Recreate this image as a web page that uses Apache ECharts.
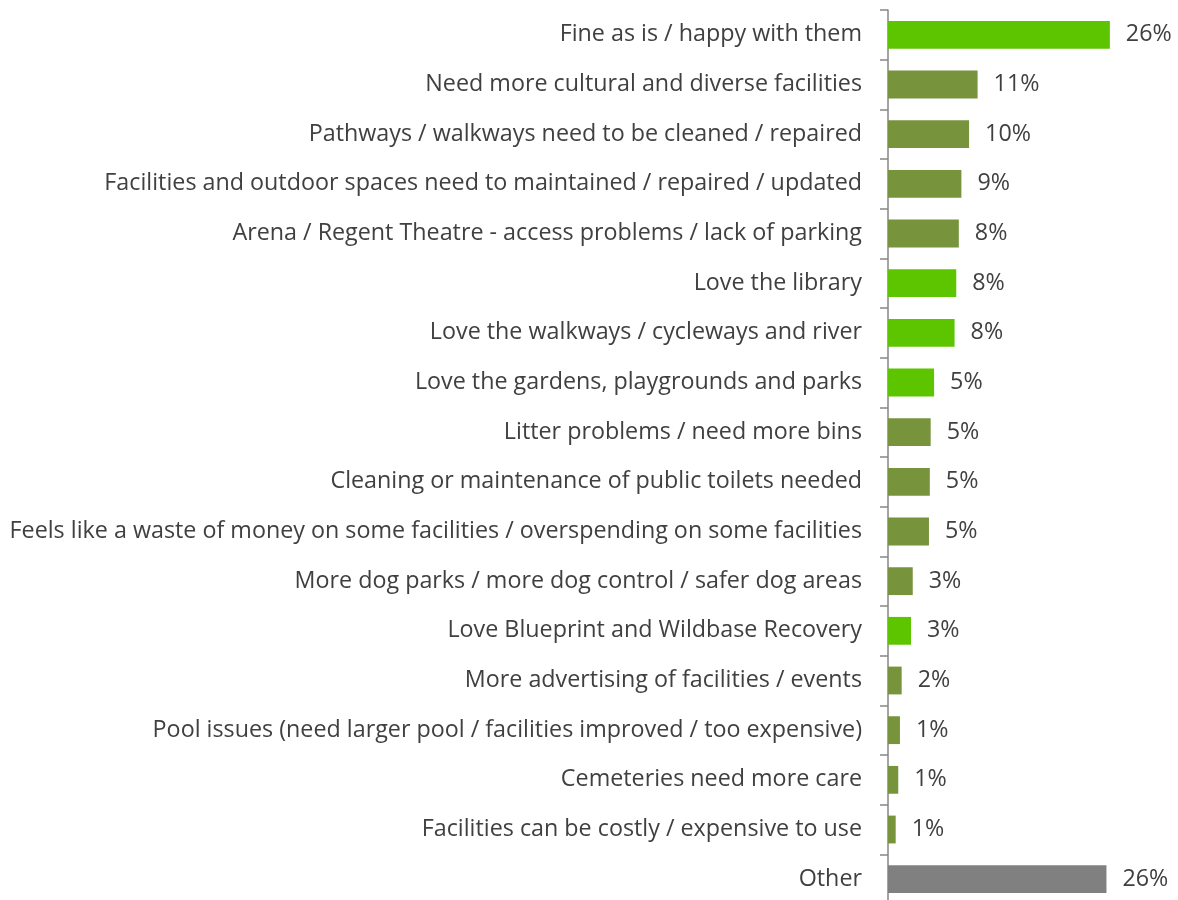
<!DOCTYPE html>
<html>
<head>
<meta charset="utf-8">
<title>Comments on community facilities</title>
<script src="https://cdn.jsdelivr.net/npm/echarts@6/dist/echarts.min.js"></script>
<style>
  html, body { margin: 0; padding: 0; background: #ffffff; overflow: hidden; }
  #chart { width: 1178px; height: 910px; }
</style>
</head>
<body>
<div id="chart"></div>
<script>
// Comment themes, listed top to bottom
const categories = [
  'Fine as is / happy with them',
  'Need more cultural and diverse facilities',
  'Pathways / walkways need to be cleaned / repaired',
  'Facilities and outdoor spaces need to maintained / repaired / updated',
  'Arena / Regent Theatre - access problems / lack of parking',
  'Love the library',
  'Love the walkways / cycleways and river',
  'Love the gardens, playgrounds and parks',
  'Litter problems / need more bins',
  'Cleaning or maintenance of public toilets needed',
  'Feels like a waste of money on some facilities / overspending on some facilities',
  'More dog parks / more dog control / safer dog areas',
  'Love Blueprint and Wildbase Recovery',
  'More advertising of facilities / events',
  'Pool issues (need larger pool / facilities improved / too expensive)',
  'Cemeteries need more care',
  'Facilities can be costly / expensive to use',
  'Other'
];

// Share of respondents (%) mentioning each theme
const shares = [26.0, 10.5, 9.5, 8.6, 8.3, 8.0, 7.8, 5.4, 5.0, 4.9, 4.8, 2.9, 2.7, 1.6, 1.4, 1.2, 0.9, 25.6];

// Themes that are compliments rather than issues
const compliments = [
  'Fine as is / happy with them',
  'Love the library',
  'Love the walkways / cycleways and river',
  'Love the gardens, playgrounds and parks',
  'Love Blueprint and Wildbase Recovery'
];

const residualCategory = 'Other';

const COLOR_COMPLIMENT = '#5cc500';
const COLOR_ISSUE = '#77933c';
const COLOR_OTHER = '#808080';
const TEXT_COLOR = '#404040';
const FONT = '"Open Sans", Lato, sans-serif';
const FONT_SIZE = 23.3;

function barColor(name) {
  if (name === residualCategory) return COLOR_OTHER;
  return compliments.indexOf(name) >= 0 ? COLOR_COMPLIMENT : COLOR_ISSUE;
}

const chart = echarts.init(document.getElementById('chart'), null, { renderer: 'canvas' });

chart.setOption({
  animation: false,
  backgroundColor: '#ffffff',
  grid: { left: 888, top: 10, height: 894, right: 34 },
  xAxis: {
    type: 'value',
    min: 0,
    max: 30,
    show: false
  },
  yAxis: {
    type: 'category',
    data: categories,
    inverse: true,
    axisLine: { show: true, lineStyle: { color: '#868686', width: 1.5 } },
    axisTick: { show: true, length: 8, lineStyle: { color: '#868686', width: 1.5 } },
    axisLabel: {
      margin: 26,
      color: TEXT_COLOR,
      fontFamily: FONT,
      fontSize: FONT_SIZE
    },
    splitLine: { show: false }
  },
  series: [{
    type: 'bar',
    barCategoryGap: '44%',
    data: categories.map((name, i) => ({
      value: shares[i],
      itemStyle: { color: barColor(name) }
    })),
    label: {
      show: true,
      position: 'right',
      distance: 16,
      color: TEXT_COLOR,
      fontFamily: FONT,
      fontSize: FONT_SIZE,
      formatter: p => Math.round(p.value) + '%'
    }
  }]
});
</script>
</body>
</html>
